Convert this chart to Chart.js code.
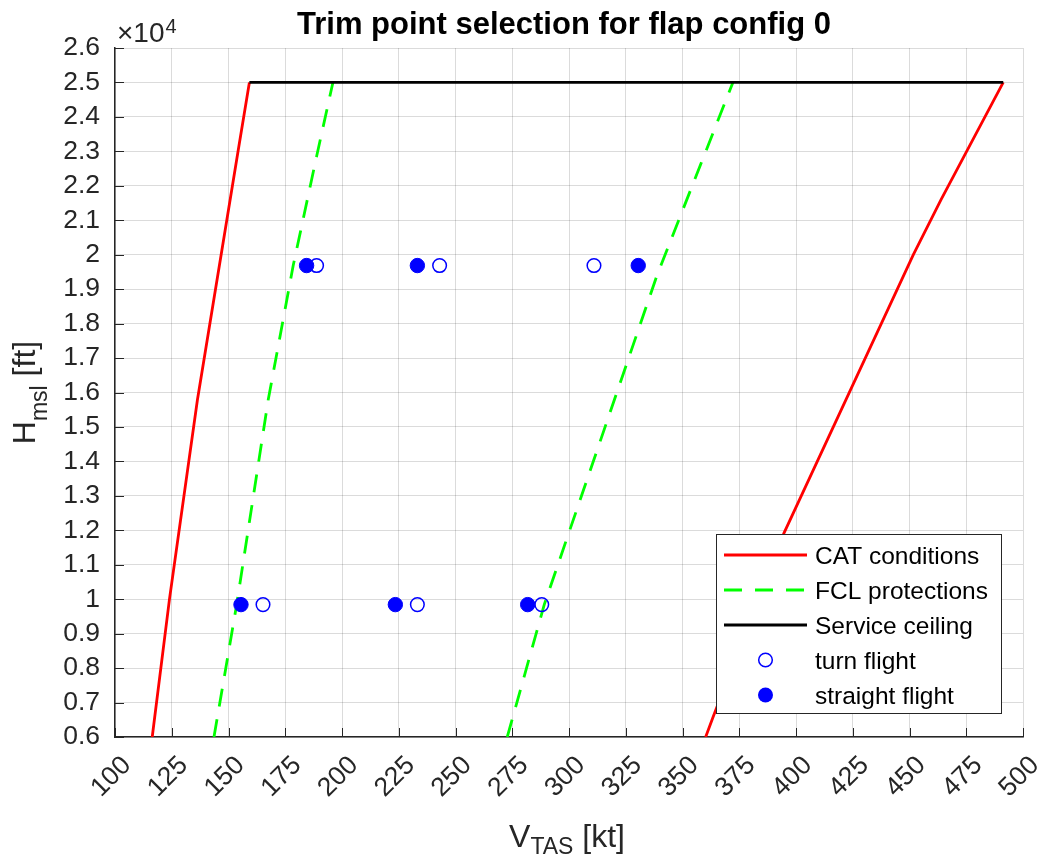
<!DOCTYPE html>
<html>
<head>
<meta charset="utf-8">
<script src="https://cdn.jsdelivr.net/npm/chart.js@4"></script>
<style>
  html, body { margin: 0; padding: 0; background: #fff; }
  #trimChart { display: block; }
</style>
</head>
<body>
<canvas id="trimChart" width="1044" height="857"></canvas>
<script>
// CAT conditions (red), two branches
const catLowV = [116.4, 124.0, 136.3, 154.3, 159.2];
const catLowH = [6000, 10000, 15780, 23040, 25000];
const catHighV = [360.2, 363.6, 394.7, 451.7, 463.9, 491.3];
const catHighH = [6000, 6600, 11920, 20000, 21600, 25000];

// FCL protections (green dashed), two branches
const fclLowV = [143.6, 153.6, 167.5, 178.5, 188.8, 196.0];
const fclLowH = [6000, 9843, 15790, 19685, 22850, 25000];
const fclHighV = [272.8, 289.1, 338.6, 372.2];
const fclHighH = [6000, 9843, 19370, 25000];

// Service ceiling
const ceilV = [159.2, 491.3];
const ceilH = [25000, 25000];

// trim points
const turnV = [165.2, 233.2, 288.0, 188.8, 243.0, 311.0];
const turnH = [9843, 9843, 9843, 19685, 19685, 19685];
const straightV = [155.5, 223.5, 281.8, 184.4, 233.2, 330.5];
const straightH = [9843, 9843, 9843, 19685, 19685, 19685];

const xTicks = [100, 500, 25];
const yTicks = [6000, 26000, 1000];

const FONT = "'Liberation Sans', Arial, sans-serif";
const AXIS = '#262626';

function pts(vs, hs) {
    return vs.map((v, i) => ({ x: v, y: hs[i] }));
}

function lineSet(label, vs, hs, color, dash, order) {
    return {
        label: label,
        data: pts(vs, hs),
        showLine: true,
        borderColor: color,
        borderWidth: 2.8,
        borderDash: dash,
        pointRadius: 0,
        fill: false,
        tension: 0,
        order: order
    };
}

// legend entries drawn by hand (inside the axes, like matlab)
const legendItems = [
    { text: 'CAT conditions', kind: 'line', color: '#ff0000', dash: [] },
    { text: 'FCL protections', kind: 'line', color: '#00ff00', dash: [18, 13] },
    { text: 'Service ceiling', kind: 'line', color: '#000000', dash: [] },
    { text: 'turn flight', kind: 'open' },
    { text: 'straight flight', kind: 'filled' }
];

const labelsPlugin = {
    id: 'labels',
    afterDraw(chart) {
        const ctx = chart.ctx;
        const area = chart.chartArea;
        const cx = (area.left + area.right) / 2;
        const cy = (area.top + area.bottom) / 2;
        ctx.save();

        // title
        ctx.fillStyle = '#000';
        ctx.font = 'bold 31px ' + FONT;
        ctx.textAlign = 'center';
        ctx.textBaseline = 'alphabetic';
        ctx.fillText('Trim point selection for flap config 0', cx - 5, 34);

        // exponent
        ctx.fillStyle = AXIS;
        ctx.textAlign = 'left';
        ctx.font = '28px ' + FONT;
        ctx.fillText('\u00d710', 117, 42);
        let w = ctx.measureText('\u00d710').width;
        ctx.font = '20px ' + FONT;
        ctx.fillText('4', 117 + w + 1, 33);

        // x label  V_TAS [kt]
        const mainF = '32px ' + FONT, subF = '23px ' + FONT;
        ctx.font = mainF;
        const wV = ctx.measureText('V').width;
        const wK = ctx.measureText(' [kt]').width;
        ctx.font = subF;
        const wT = ctx.measureText('TAS').width;
        let x0 = cx - 2 - (wV + wT + wK) / 2;
        ctx.font = mainF;
        ctx.fillText('V', x0, 847);
        ctx.font = subF;
        ctx.fillText('TAS', x0 + wV, 854);
        ctx.font = mainF;
        ctx.fillText(' [kt]', x0 + wV + wT, 847);

        // y label  H_msl [ft]
        ctx.translate(35, cy);
        ctx.rotate(-Math.PI / 2);
        ctx.font = mainF;
        const wH = ctx.measureText('H').width;
        const wF = ctx.measureText(' [ft]').width;
        ctx.font = subF;
        const wM = ctx.measureText('msl').width;
        x0 = -(wH + wM + wF) / 2;
        ctx.font = mainF;
        ctx.fillText('H', x0, 0);
        ctx.font = subF;
        ctx.fillText('msl', x0 + wH, 12);
        ctx.font = mainF;
        ctx.fillText(' [ft]', x0 + wH + wM, 0);
        ctx.restore();

        // inward tick marks
        const xs = chart.scales.x, ys = chart.scales.y;
        ctx.save();
        ctx.strokeStyle = AXIS;
        ctx.lineWidth = 1;
        ctx.beginPath();
        xs.ticks.forEach(t => {
            const px = Math.round(xs.getPixelForValue(t.value)) + 0.5;
            ctx.moveTo(px, area.bottom);
            ctx.lineTo(px, area.bottom - 9);
        });
        ys.ticks.forEach(t => {
            const py = Math.round(ys.getPixelForValue(t.value)) + 0.5;
            ctx.moveTo(area.left, py);
            ctx.lineTo(area.left + 9, py);
        });
        ctx.stroke();
        ctx.restore();

        // legend box
        ctx.save();
        const bx = 716, by = 534, bw = 285, bh = 179;
        ctx.fillStyle = '#fff';
        ctx.fillRect(bx, by, bw, bh);
        ctx.strokeStyle = AXIS;
        ctx.lineWidth = 1;
        ctx.strokeRect(bx + 0.5, by + 0.5, bw, bh);
        ctx.font = '24.5px ' + FONT;
        ctx.textAlign = 'left';
        ctx.textBaseline = 'alphabetic';
        legendItems.forEach((it, i) => {
            const ry = 555 + i * 35;
            if (it.kind === 'line') {
                ctx.strokeStyle = it.color;
                ctx.lineWidth = 2.8;
                ctx.setLineDash(it.dash);
                ctx.beginPath();
                ctx.moveTo(724, ry);
                ctx.lineTo(807, ry);
                ctx.stroke();
                ctx.setLineDash([]);
            } else {
                ctx.beginPath();
                ctx.arc(765.5, ry, it.kind === 'open' ? 6.8 : 7.5, 0, Math.PI * 2);
                if (it.kind === 'filled') {
                    ctx.fillStyle = '#0000ff';
                    ctx.fill();
                } else {
                    ctx.strokeStyle = '#0000ff';
                    ctx.lineWidth = 1.5;
                    ctx.stroke();
                }
            }
            ctx.fillStyle = '#000';
            ctx.fillText(it.text, 815, ry + 9);
        });
        ctx.restore();
    }
};

const ctx = document.getElementById('trimChart').getContext('2d');
const chart = new Chart(ctx, {
    type: 'scatter',
    data: {
        datasets: [
            lineSet('CAT conditions', catLowV, catLowH, '#ff0000', [], 7),
            lineSet('CAT conditions', catHighV, catHighH, '#ff0000', [], 6),
            lineSet('FCL protections', fclLowV, fclLowH, '#00ff00', [18, 13], 5),
            lineSet('FCL protections', fclHighV, fclHighH, '#00ff00', [18, 13], 4),
            lineSet('Service ceiling', ceilV, ceilH, '#000000', [], 3),
            {
                label: 'turn flight',
                data: pts(turnV, turnH),
                pointRadius: 6.8,
                pointBorderWidth: 1.5,
                pointBackgroundColor: 'rgba(0,0,0,0)',
                pointBorderColor: '#0000ff',
                order: 2
            },
            {
                label: 'straight flight',
                data: pts(straightV, straightH),
                pointRadius: 7.2,
                pointBorderWidth: 1,
                pointBackgroundColor: '#0000ff',
                pointBorderColor: '#0000ff',
                order: 1
            }
        ]
    },
    options: {
        responsive: false,
        animation: false,
        layout: { padding: { top: 48, right: 21, left: 0, bottom: 0 } },
        plugins: {
            legend: { display: false },
            tooltip: { enabled: false },
            title: { display: false }
        },
        scales: {
            x: {
                type: 'linear',
                min: xTicks[0],
                max: xTicks[1],
                ticks: {
                    stepSize: xTicks[2],
                    autoSkip: false,
                    minRotation: 45,
                    maxRotation: 45,
                    padding: 13,
                    labelOffset: 12,
                    color: AXIS,
                    font: { family: FONT, size: 26.5 }
                },
                grid: { color: 'rgba(0,0,0,0.14)', lineWidth: 1, drawTicks: false },
                border: { display: true, color: AXIS, width: 1.5 },
                afterFit(s) {
                    s.height = 120;
                    s.paddingLeft = 0;
                    s.paddingRight = 0;
                }
            },
            y: {
                type: 'linear',
                min: yTicks[0],
                max: yTicks[1],
                ticks: {
                    stepSize: yTicks[2],
                    autoSkip: false,
                    padding: 15,
                    color: AXIS,
                    font: { family: FONT, size: 26.5 },
                    callback: v => String(+(v / 10000).toFixed(1))
                },
                grid: { color: 'rgba(0,0,0,0.14)', lineWidth: 1, drawTicks: false },
                border: { display: true, color: AXIS, width: 1.5 },
                afterFit(s) {
                    s.width = 115;
                    s.paddingTop = 0;
                    s.paddingBottom = 0;
                }
            }
        }
    },
    plugins: [labelsPlugin]
});
</script>
</body>
</html>
